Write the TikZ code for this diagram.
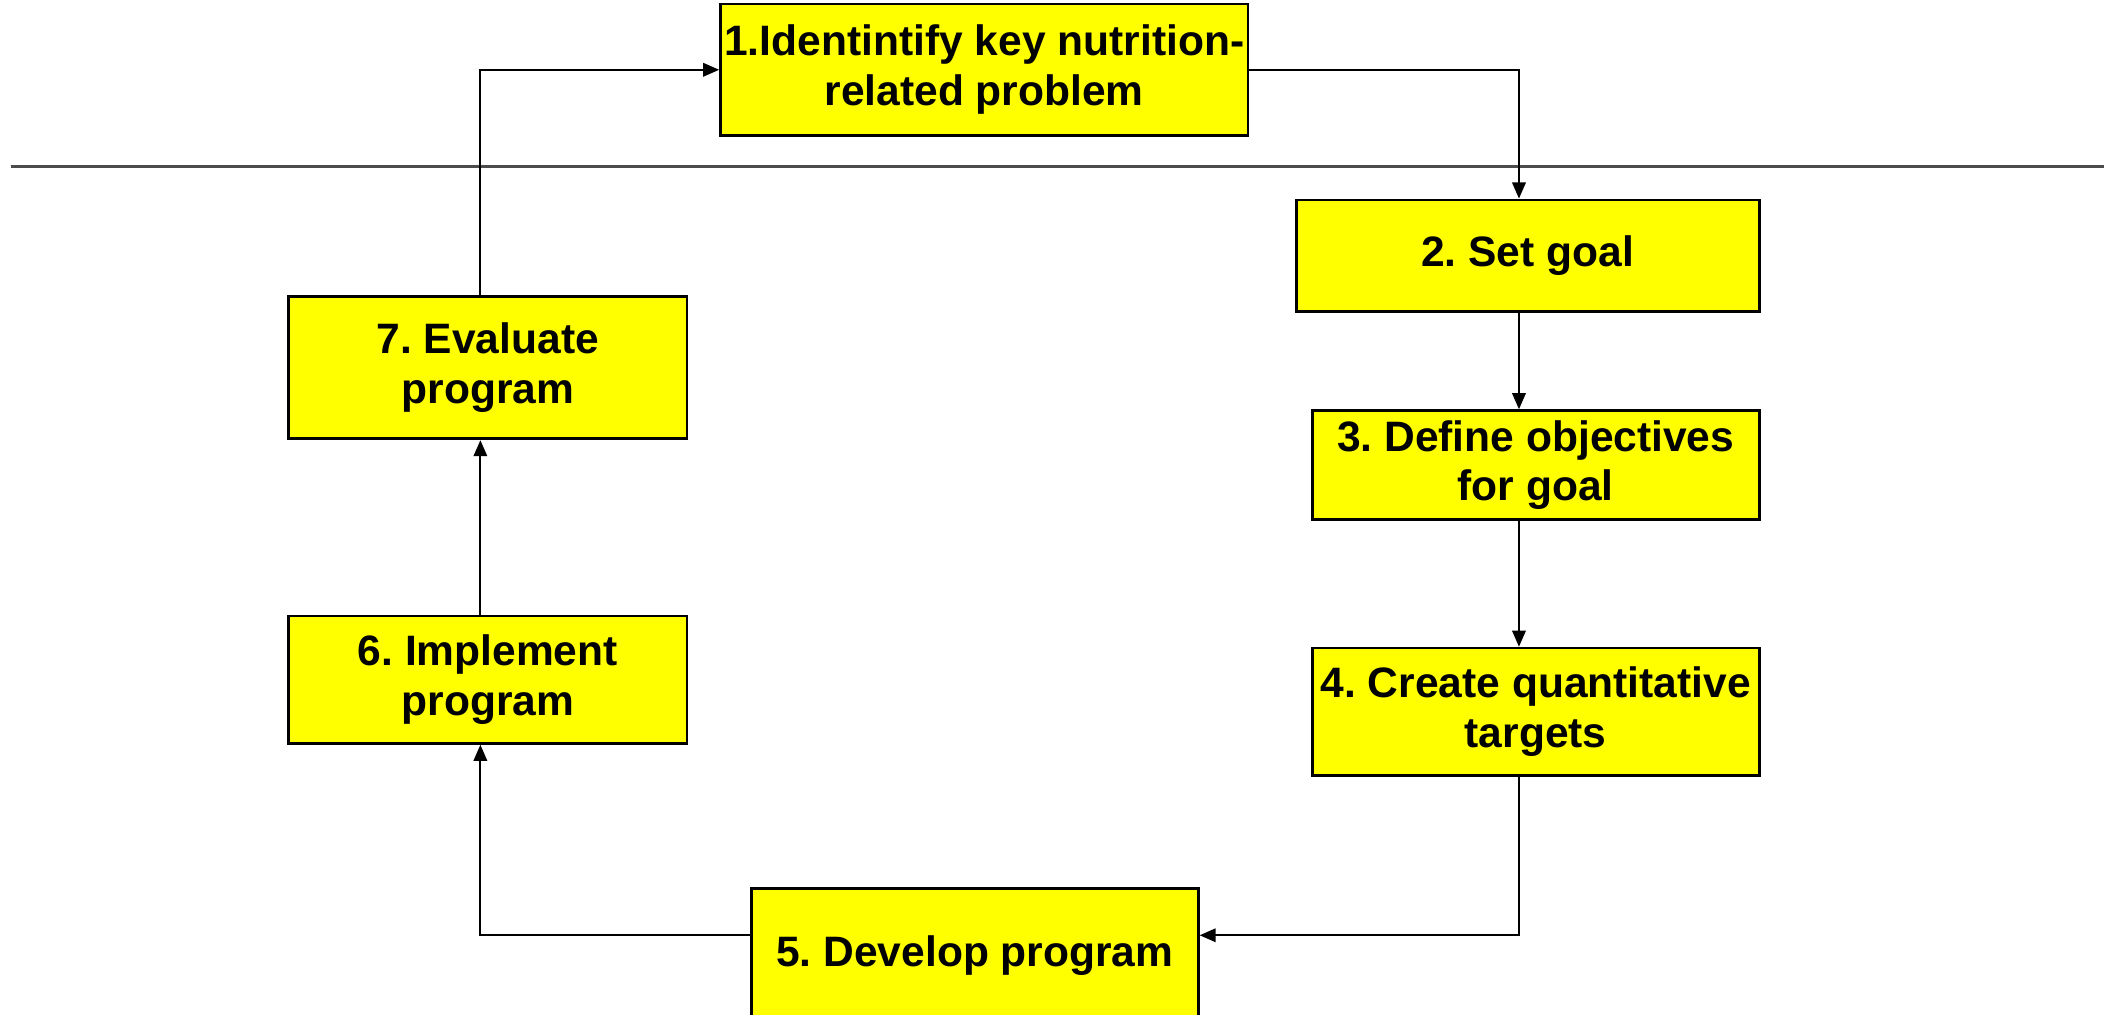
\documentclass[tikz,border=0pt]{standalone}
\usepackage{fontspec}
\setmainfont{Liberation Sans}
\frenchspacing
\usetikzlibrary{arrows.meta}
\definecolor{boxyellow}{RGB}{255,255,0}
\tikzset{
      task/.style={ % Sets the properties for each yellow box
      draw, line width=2pt,
      fill=boxyellow,
      inner sep=0pt,
      align=center,
      font=\fontsize{31.7}{37}\selectfont\bfseries},
      flow/.style={ % Sets the properties for each connector
      draw, line width=1.6pt,
      -{Triangle[length=12pt,width=10pt]}}, % Filled triangle heads
      divider/.style={line width=2.2pt, black!70}}

\begin{document}
\begin{tikzpicture}[x=1pt,y=-1pt]
      \useasboundingbox (0,0) rectangle (1568,756);
      \draw[divider] (8,124) -- (1568,124);
      \node[task, minimum width=393pt, minimum height=98pt] (b1) at (733.5,52) {1.Identintify key nutrition-\\related problem};
      \node[task, minimum width=345pt, minimum height=83pt] (b2) at (1138.5,190.5) {2. Set goal};
      \node[task, minimum width=333pt, minimum height=81pt] (b3) at (1144.5,346.5) {3. Define objectives\\for goal};
      \node[task, minimum width=333pt, minimum height=95pt] (b4) at (1144.5,530.5) {4. Create quantitative\\targets};
      \node[task, minimum width=333pt, minimum height=100pt] (b5) at (726.5,712) {5. Develop program};
      \node[task, minimum width=297pt, minimum height=95pt] (b6) at (363.5,506.5) {6. Implement\\program};
      \node[task, minimum width=297pt, minimum height=106pt] (b7) at (363.5,274) {7. Evaluate\\program};
      \coordinate (colL) at (358,0);
      \coordinate (colR) at (1132,0);
      \coordinate (rowB) at (0,697);
      \draw[flow] (colL |- b7.north) |- (b1.west);
      \draw[flow] (b1.east) -| (colR |- b2.north);
      \draw[flow] (colR |- b2.south) -- (colR |- b3.north);
      \draw[flow] (colR |- b3.south) -- (colR |- b4.north);
      \draw[flow] (colR |- b4.south) |- (b5.east |- rowB);
      \draw[flow] (b5.west |- rowB) -| (colL |- b6.south);
      \draw[flow] (colL |- b6.north) -- (colL |- b7.south);
    \end{tikzpicture}
\end{document}
